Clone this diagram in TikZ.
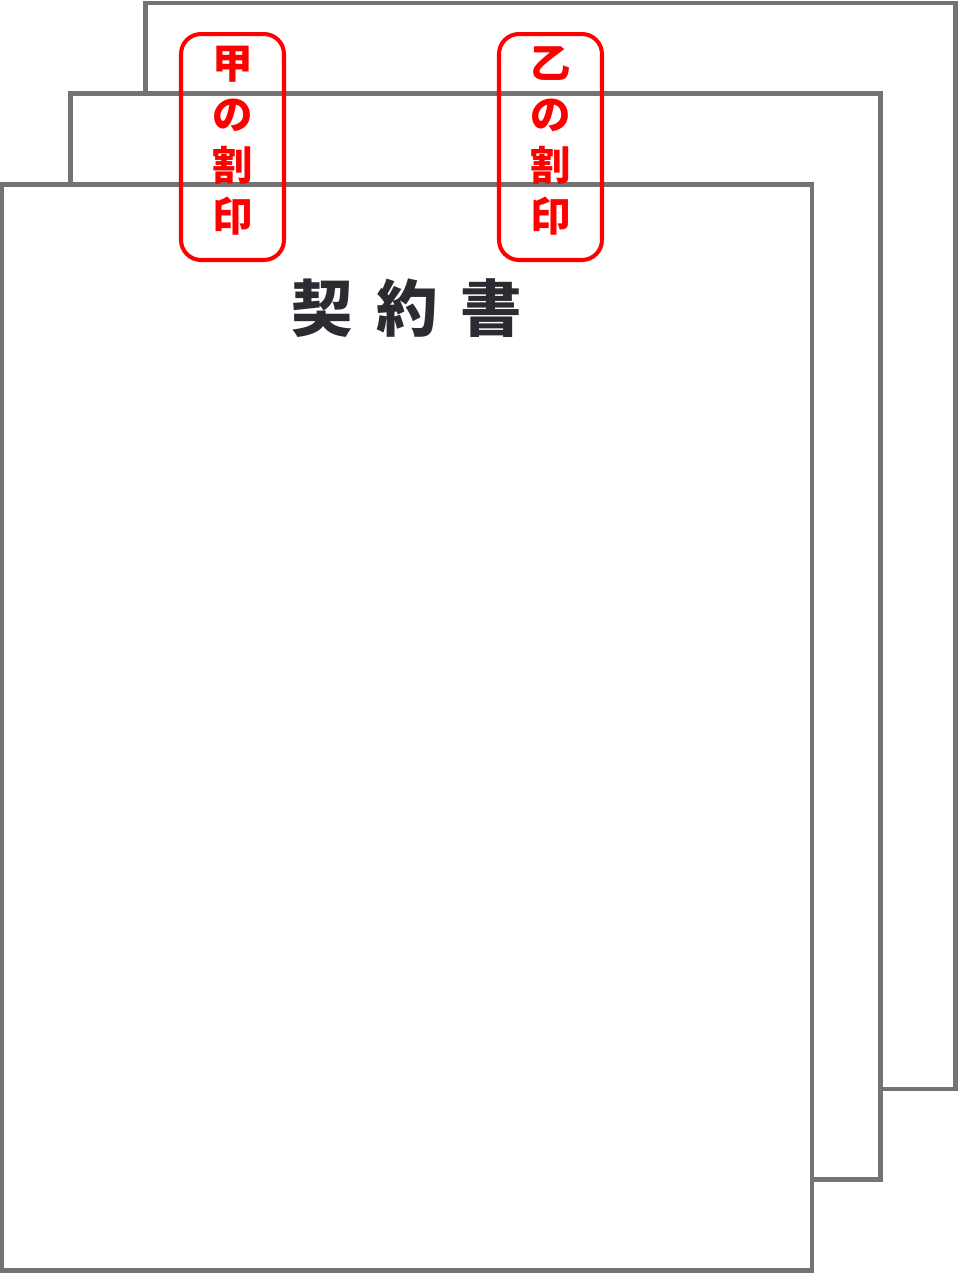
\documentclass[tikz,border=0pt]{standalone}
\usepackage{fontspec}
\newfontfamily\jpfont{Noto Sans CJK JP}
\usetikzlibrary{positioning}
\definecolor{pagegray}{HTML}{737373}
\definecolor{inkgray}{HTML}{2B2B31}
\tikzset{page/.style={draw=pagegray,line width=2.56pt,fill=white,minimum width=16.2cm,minimum height=21.72cm,inner sep=0pt},
         seal/.style={draw=red,line width=2.3pt,rounded corners=0.4cm,minimum width=2.06cm,minimum height=4.52cm,inner sep=0pt,text depth=9.5pt,align=center,text=red,font=\jpfont\bfseries\fontsize{23}{29}\selectfont},
         heading/.style={text=inkgray,font=\jpfont\bfseries\fontsize{35}{40}\selectfont},
        }
\begin{document}
\begin{tikzpicture}[x=0.02cm,y=-0.02cm]
        \useasboundingbox (0,0) rectangle (967,1278);
        \node[page](p3)at(550.5,546){};
        \node[page](p2)at(475.5,636.5){};
        \node[page](p1)at(407,727.5){};

        \node[seal](s1)at(232.5,147){甲\\の\\割\\印};
        \node[seal](s2)at(550.5,147){乙\\の\\割\\印};

        \node[heading](title)at(407,308){{\spaceskip=13pt\relax 契 約 書}};
    \end{tikzpicture}
\end{document}
